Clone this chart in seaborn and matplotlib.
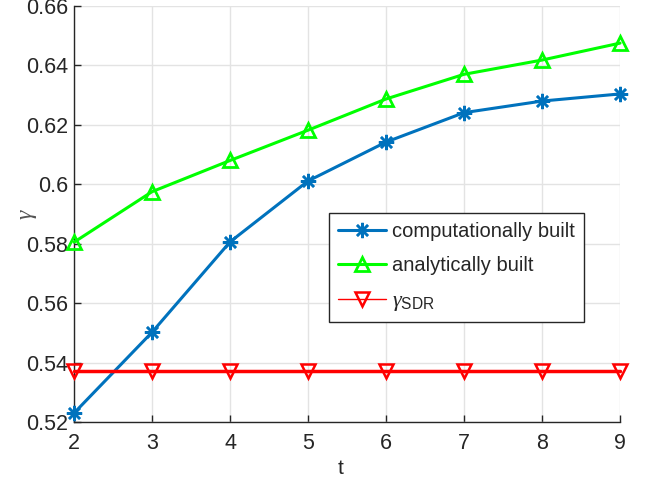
import matplotlib
matplotlib.use("Agg")
import matplotlib.pyplot as plt
import seaborn as sns
import pandas as pd

t = [2, 3, 4, 5, 6, 7, 8, 9]
computational = [0.5230, 0.5502, 0.5806, 0.6011, 0.6142, 0.6241, 0.6280, 0.6304]
analytical = [0.5805, 0.5975, 0.6080, 0.6182, 0.6287, 0.6370, 0.6418, 0.6475]
gamma_sdr = [0.5371] * 8
xticks = [2, 3, 4, 5, 6, 7, 8, 9]
yticks = [0.52, 0.54, 0.56, 0.58, 0.60, 0.62, 0.64, 0.66]
ytick_labels = ["0.52", "0.54", "0.56", "0.58", "0.6", "0.62", "0.64", "0.66"]

sns.set_theme(style="white")
plt.rcParams["font.family"] = ["Liberation Sans", "DejaVu Sans"]
plt.rcParams["mathtext.fontset"] = "custom"
plt.rcParams["mathtext.rm"] = "Liberation Sans"
plt.rcParams["mathtext.it"] = "Liberation Serif:italic"

fig = plt.figure(figsize=(6.47, 4.82), dpi=100)
ax = fig.add_axes([0.1144, 0.1245, 0.8439, 0.8631])

df = pd.DataFrame({"t": t, "comp": computational, "anal": analytical, "sdr": gamma_sdr})

sns.lineplot(data=df, x="t", y="comp", ax=ax, color="#0072BD", lw=2.2,
             marker=(8, 2, 0), markersize=11, markeredgewidth=1.8,
             markeredgecolor="#0072BD", clip_on=False, zorder=4,
             label="computationally built")
sns.lineplot(data=df, x="t", y="anal", ax=ax, color="#00FF00", lw=2.2,
             marker="^", markersize=10.5, markerfacecolor="none",
             markeredgewidth=2.0, markeredgecolor="#00FF00", clip_on=False,
             zorder=4, label="analytically built")
sns.lineplot(data=df, x="t", y="sdr", ax=ax, color="#FF0000", lw=2.5,
             marker="v", markersize=10.5, markerfacecolor="none",
             markeredgewidth=1.8, markeredgecolor="#FF0000", clip_on=False,
             zorder=4, label=r"$\gamma_{\mathrm{SDR}}$")

ax.set_xlim(2, 9)
ax.set_ylim(0.52, 0.66)
ax.set_xticks(xticks)
ax.set_yticks(yticks)
ax.set_yticklabels(ytick_labels)
ax.grid(True, color="#e3e3e3", lw=1.0)
ax.set_axisbelow(True)

for s in ["top", "right"]:
    ax.spines[s].set_visible(False)
for s in ["left", "bottom"]:
    ax.spines[s].set_color("#262626")
    ax.spines[s].set_linewidth(1.0)

ax.tick_params(axis="both", direction="in", length=5, width=1.0,
               colors="#262626", labelsize=15.5, labelcolor="#262626",
               left=True, bottom=True)
ax.tick_params(axis="x", pad=8)
ax.tick_params(axis="y", pad=4)

ax.set_xlabel("t", fontsize=15, color="#262626", labelpad=2)
ax.set_ylabel(r"$\gamma$", fontsize=17, color="#555555", labelpad=4)
ax.xaxis.set_label_coords(0.488, -0.09)
ax.yaxis.set_label_coords(-0.065, 0.5)

leg = ax.legend(loc="upper left", bbox_to_anchor=(0.467, 0.5024),
                borderaxespad=0, fontsize=14.5, frameon=True, fancybox=False,
                edgecolor="#262626", framealpha=1, handlelength=2.4,
                handletextpad=0.3, borderpad=0.45, labelspacing=0.74)
leg.get_frame().set_linewidth(1.0)
hl = leg.get_lines()
hl[2].set_linewidth(1.0)
leg.get_texts()[2].set_fontsize(16)

fig.savefig("out.png", dpi=100)
